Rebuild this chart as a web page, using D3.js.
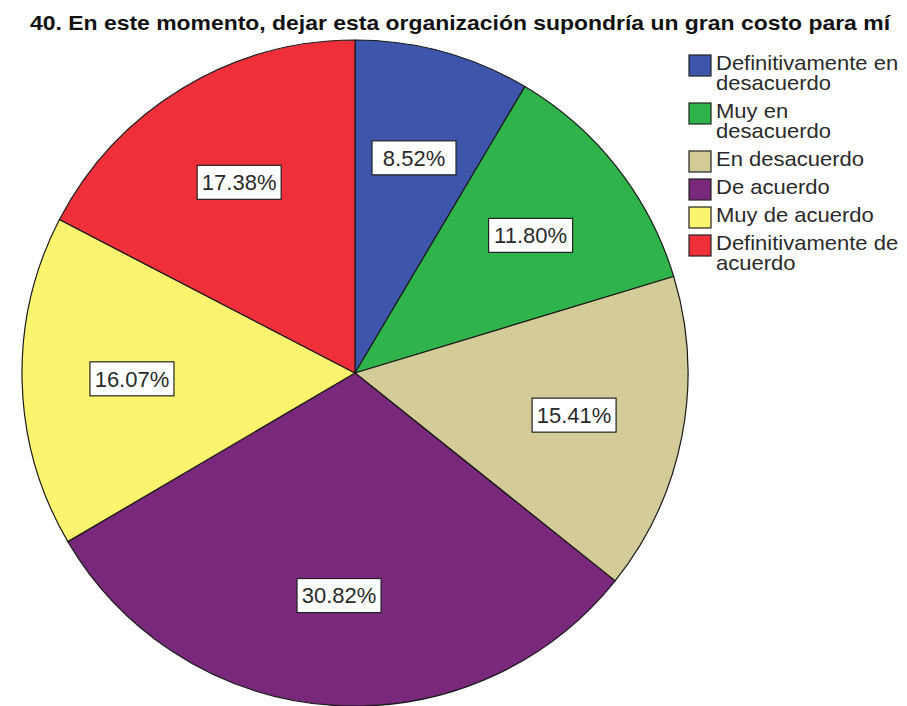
<!DOCTYPE html>
<html>
<head>
<meta charset="utf-8">
<script src="https://cdn.jsdelivr.net/npm/d3@7"></script>
<style>
  html, body { margin: 0; padding: 0; background: #ffffff; }
  svg { display: block; }
</style>
</head>
<body>
<script>
// Response categories, in the order they run clockwise from 12 o'clock
const categories = [
  "Definitivamente en desacuerdo",
  "Muy en desacuerdo",
  "En desacuerdo",
  "De acuerdo",
  "Muy de acuerdo",
  "Definitivamente de acuerdo"
];
// Percentage of respondents per category
const percents = [8.52, 11.80, 15.41, 30.82, 16.07, 17.38];
// Legend text, broken into lines
const legendLines = [
  ["Definitivamente en", "desacuerdo"],
  ["Muy en", "desacuerdo"],
  ["En desacuerdo"],
  ["De acuerdo"],
  ["Muy de acuerdo"],
  ["Definitivamente de", "acuerdo"]
];
const colors = ["#3d56ab", "#2fb34b", "#d3cc98", "#79287c", "#fbf46e", "#ef2f39"];
const title = "40. En este momento, dejar esta organización supondría un gran costo para mí";

const W = 907, H = 706;
const cx = 355, cy = 373, R = 333;

const svg = d3.select("body").append("svg")
  .attr("width", W).attr("height", H);

const data = categories.map((c, i) => ({ cat: c, value: percents[i], color: colors[i] }));

const pie = d3.pie().value(d => d.value).sort(null);
const arc = d3.arc().innerRadius(0).outerRadius(R);
const labelArc = d3.arc().innerRadius(R * 0.67).outerRadius(R * 0.67);

const g = svg.append("g").attr("transform", `translate(${cx},${cy})`);
const arcs = pie(data);

g.selectAll("path.slice").data(arcs).enter().append("path")
  .attr("class", "slice")
  .attr("d", arc)
  .attr("fill", d => d.data.color)
  .attr("stroke", "#1a1a1a")
  .attr("stroke-width", 1.2)
  .attr("stroke-linejoin", "round");

// Value labels in white boxes
const lab = g.selectAll("g.lab").data(arcs).enter().append("g")
  .attr("class", "lab")
  .attr("transform", d => `translate(${labelArc.centroid(d)})`);

lab.append("rect")
  .attr("x", -42).attr("y", -17)
  .attr("width", 84).attr("height", 34)
  .attr("fill", "#ffffff")
  .attr("stroke", "#222222")
  .attr("stroke-width", 1.2);

lab.append("text")
  .attr("text-anchor", "middle")
  .attr("dy", "0.36em")
  .attr("font-family", "Liberation Sans, Arial, sans-serif")
  .attr("font-size", 22)
  .attr("fill", "#2a2a2a")
  .text(d => d.data.value.toFixed(2) + "%");

// Title
svg.append("text")
  .attr("x", 30).attr("y", 30)
  .attr("font-family", "Liberation Sans, Arial, sans-serif")
  .attr("font-weight", "bold")
  .attr("font-size", 21)
  .attr("textLength", 860)
  .attr("lengthAdjust", "spacingAndGlyphs")
  .attr("fill", "#111111")
  .text(title);

// Legend
const legend = svg.append("g").attr("transform", "translate(689,55)");
let yOff = 0;
legendLines.forEach((lines, i) => {
  const item = legend.append("g").attr("transform", `translate(0,${yOff})`);
  item.append("rect")
    .attr("x", 0).attr("y", 0)
    .attr("width", 22).attr("height", 21)
    .attr("fill", colors[i])
    .attr("stroke", "#222222")
    .attr("stroke-width", 1.2);
  const txt = item.append("g").attr("transform", "translate(27,0) scale(1.1,1)");
  lines.forEach((t, j) => {
    txt.append("text")
      .attr("x", 0).attr("y", 15 + j * 20)
      .attr("font-family", "Liberation Sans, Arial, sans-serif")
      .attr("font-size", 20)
      .attr("fill", "#2a2a2a")
      .text(t);
  });
  yOff += 28 + (lines.length - 1) * 20;
});
</script>
</body>
</html>
